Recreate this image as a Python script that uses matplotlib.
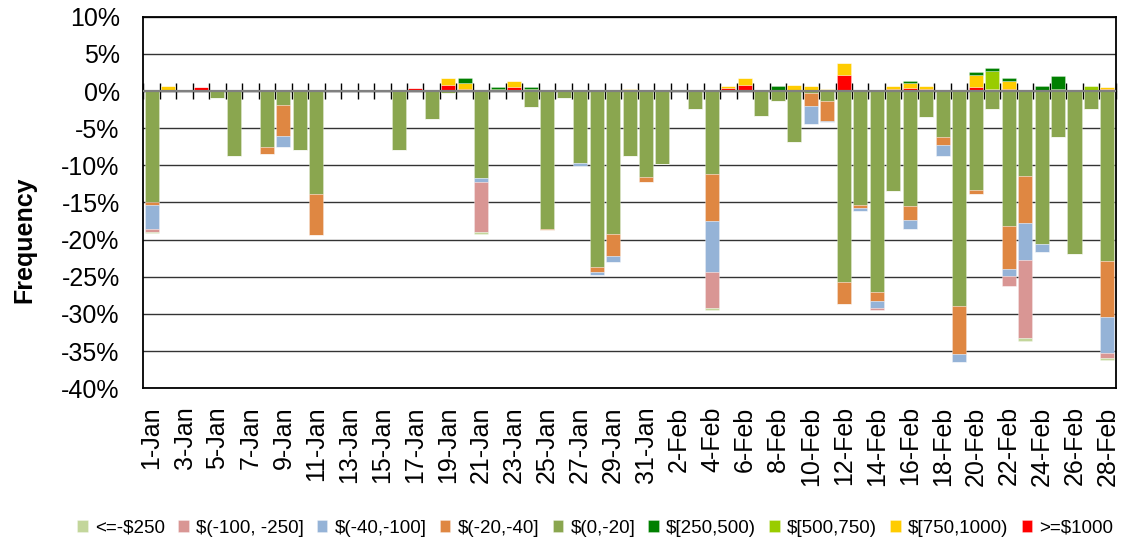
import numpy as np
import matplotlib
matplotlib.use("Agg")
import matplotlib.pyplot as plt
from matplotlib.ticker import FuncFormatter

plt.rcParams['font.family'] = ['Liberation Sans', 'DejaVu Sans']

# days 1-Jan .. 28-Feb
days = [f"{d}-Jan" for d in range(1, 32)] + [f"{d}-Feb" for d in range(1, 29)]

# losses (% of days, plotted downward), index = day - 1
loss_0_20 = [14.9, 0, 0, 0, 0.9, 8.7, 0, 7.6, 1.9, 8.0,
             13.9, 0, 0, 0, 0, 7.9, 0, 3.8, 0.3, 0,
             11.7, 0, 0, 2.2, 18.5, 1.0, 9.7, 23.7, 19.2, 8.7,
             11.6, 9.8, 0, 2.4, 11.1, 0, 0, 3.4, 1.3, 6.9,
             0.3, 1.4, 25.7, 15.4, 27.1, 13.5, 15.5, 3.5, 6.2, 28.9,
             13.3, 2.4, 18.1, 11.5, 20.6, 6.2, 21.9, 2.4, 22.9]
loss_20_40 = [0.5, 0, 0, 0, 0, 0, 0, 0.9, 4.2, 0,
              5.5, 0, 0, 0, 0, 0, 0, 0, 0, 0,
              0, 0, 0, 0, 0.15, 0, 0, 0.6, 3.0, 0,
              0.7, 0, 0, 0, 6.4, 0, 0, 0, 0, 0,
              1.7, 2.6, 3.0, 0.3, 1.1, 0, 1.8, 0, 1.0, 6.5,
              0.6, 0, 5.9, 6.2, 0, 0, 0, 0, 7.5]
loss_40_100 = [3.1, 0, 0, 0, 0, 0, 0, 0, 1.4, 0,
               0, 0, 0, 0, 0, 0, 0, 0, 0, 0,
               0.6, 0, 0, 0, 0, 0, 0.4, 0.4, 0.8, 0,
               0, 0, 0, 0, 6.9, 0, 0, 0, 0, 0,
               2.5, 0.2, 0, 0.4, 1.0, 0, 1.3, 0, 1.5, 1.1,
               0, 0, 0.9, 5.1, 1.1, 0, 0, 0, 4.8]
loss_100_250 = [0.5, 0, 0, 0, 0, 0, 0, 0, 0, 0,
                0, 0, 0, 0, 0, 0, 0, 0, 0, 0,
                6.7, 0, 0, 0, 0, 0, 0, 0, 0, 0,
                0, 0, 0, 0, 4.8, 0, 0, 0, 0, 0,
                0, 0, 0, 0, 0.3, 0, 0, 0, 0, 0,
                0, 0, 1.3, 10.4, 0, 0, 0, 0, 0.7]
loss_250 = [0.1, 0, 0, 0, 0, 0, 0, 0, 0, 0,
            0, 0, 0, 0, 0, 0, 0, 0, 0, 0,
            0.25, 0, 0, 0, 0, 0, 0, 0, 0, 0,
            0, 0, 0, 0, 0.3, 0, 0, 0, 0, 0,
            0, 0, 0, 0, 0, 0, 0, 0, 0, 0,
            0, 0, 0, 0.4, 0, 0, 0, 0, 0.3]

# gains (plotted upward)
gain_1000 = [0, 0.15, 0, 0.6, 0, 0, 0, 0, 0, 0,
             0, 0, 0, 0, 0, 0, 0.35, 0, 0.8, 0.25,
             0, 0, 0.6, 0, 0, 0, 0, 0, 0, 0,
             0, 0, 0, 0, 0, 0.45, 0.8, 0, 0, 0.15,
             0, 0, 2.15, 0, 0, 0.3, 0.45, 0.3, 0, 0,
             0.6, 0, 0.3, 0, 0, 0, 0, 0, 0.25]
gain_750_1000 = [0, 0.55, 0, 0, 0, 0, 0, 0, 0, 0,
                 0, 0, 0, 0, 0, 0, 0, 0, 0.9, 0.85,
                 0, 0, 0.7, 0.25, 0, 0, 0, 0, 0, 0.25,
                 0, 0, 0, 0, 0, 0.2, 0.9, 0.2, 0.1, 0.6,
                 0.7, 0.25, 1.6, 0, 0, 0.4, 0.6, 0.4, 0, 0,
                 1.6, 0.3, 1.1, 0, 0, 0, 0, 0, 0.35]
gain_500_750 = [0, 0, 0, 0, 0, 0, 0, 0, 0, 0,
                0, 0, 0, 0, 0, 0, 0, 0, 0, 0,
                0, 0.3, 0, 0, 0, 0, 0, 0, 0, 0,
                0, 0, 0, 0, 0, 0, 0, 0, 0, 0,
                0, 0, 0, 0, 0, 0, 0, 0, 0, 0,
                0, 2.4, 0, 0, 0, 0.25, 0, 0.65, 0]
gain_250_500 = [0, 0, 0, 0, 0, 0, 0.15, 0, 0, 0,
                0, 0, 0, 0, 0, 0, 0, 0, 0, 0.7,
                0, 0.25, 0, 0.35, 0, 0, 0, 0, 0, 0,
                0, 0, 0, 0, 0, 0, 0, 0, 0.55, 0,
                0, 0, 0, 0, 0, 0, 0.3, 0, 0, 0,
                0.35, 0.36, 0.3, 0, 0.65, 1.8, 0, 0, 0]

neg_series = [("$(0,-20]", loss_0_20, "#8AA64F"),
              ("$(-20,-40]", loss_20_40, "#DF8742"),
              ("$(-40,-100]", loss_40_100, "#95B3D7"),
              ("$(-100, -250]", loss_100_250, "#D99694"),
              ("<=-$250", loss_250, "#C3D69B")]
pos_series = [(">=$1000", gain_1000, "#FF0000"),
              ("$[750,1000)", gain_750_1000, "#FFCC00"),
              ("$[500,750)", gain_500_750, "#99CC00"),
              ("$[250,500)", gain_250_500, "#008000")]

fig = plt.figure(figsize=(11.32, 5.45), dpi=100)
ax = fig.add_axes([0.1266, 0.2875, 0.859, 0.6819])

x = np.arange(len(days))
w = 0.85
handles = {}

bottom = np.zeros(len(days))
for name, vals, col in neg_series:
    v = -np.array(vals)
    handles[name] = ax.bar(x, v, w, bottom=bottom, color=col,
                           edgecolor=(1, 1, 1, 0.4), linewidth=0.5, zorder=3)
    bottom += v

bottom = np.zeros(len(days))
for name, vals, col in pos_series:
    v = np.array(vals)
    handles[name] = ax.bar(x, v, w, bottom=bottom, color=col,
                           edgecolor=(1, 1, 1, 0.4), linewidth=0.5, zorder=3)
    bottom += v

ax.set_xlim(-0.5, len(days) - 0.5)
ax.set_ylim(-40, 10)
ax.set_yticks(np.arange(-40, 11, 5))
ax.yaxis.set_major_formatter(FuncFormatter(lambda v, p: f"{v:.0f}%"))
ax.tick_params(axis='y', length=0, pad=17, labelsize=18)
ax.grid(axis='y', color='#333333', linewidth=1.0, zorder=1)
ax.axhline(0, color='#808080', linewidth=1.6, zorder=4)

ax.set_xticks(x[::2])
ax.set_xticklabels(days[::2], rotation=90, fontsize=18)
ax.tick_params(axis='x', length=0, pad=13)

for s in ax.spines.values():
    s.set_color('black')
    s.set_linewidth(1.3)

# cross tick marks on the zero line at each day boundary
sec = ax.secondary_xaxis(0.8)
sec.set_xticks(np.arange(len(days) + 1) - 0.5)
sec.set_xticklabels([])
sec.tick_params(axis='x', direction='inout', length=11, width=1.0, color='black')
sec.spines['bottom'].set_visible(False)

ax.set_ylabel("Frequency", fontsize=18, fontweight='bold')
ax.yaxis.set_label_coords(-0.11, 0.40)

order = ["<=-$250", "$(-100, -250]", "$(-40,-100]", "$(-20,-40]", "$(0,-20]",
         "$[250,500)", "$[500,750)", "$[750,1000)", ">=$1000"]
fig.legend([handles[n] for n in order], order, loc='center', ncol=9,
           bbox_to_anchor=(0.526, 0.031), frameon=False, fontsize=13.5,
           handlelength=0.55, handleheight=0.55, handletextpad=0.4,
           columnspacing=0.7)

fig.savefig("out.png", dpi=100)
